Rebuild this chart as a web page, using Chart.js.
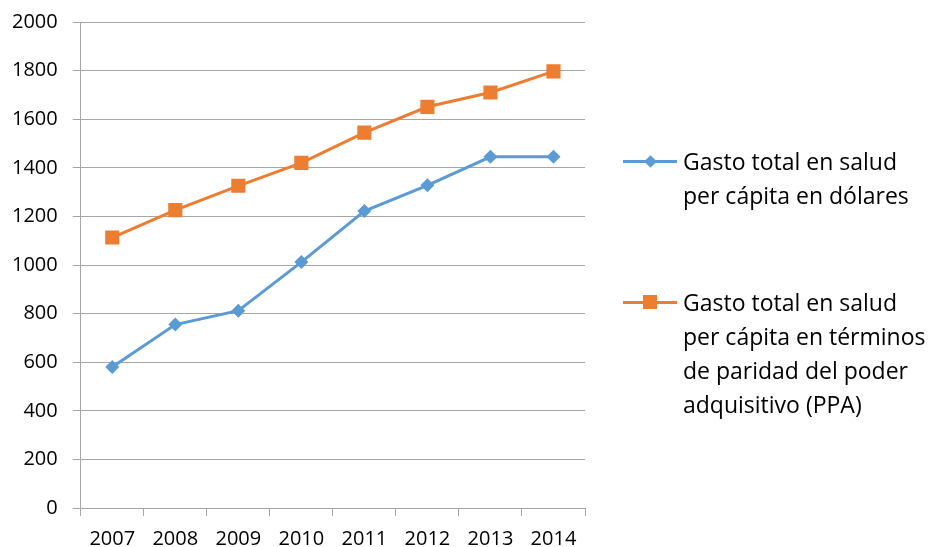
<!DOCTYPE html>
<html>
<head>
<meta charset="utf-8">
<script src="https://cdn.jsdelivr.net/npm/chart.js@4/dist/chart.umd.min.js"></script>
<style>
  html, body { margin: 0; padding: 0; background: #fff; }
  #wrap { position: relative; width: 930px; height: 547px; }
  #c { position: absolute; left: 0; top: 0; }
  .leg { position: absolute; left: 623px; font-family: "Open Sans", sans-serif; font-size: 23px; line-height: 34px; color: #000; }
  .leg .txt { position: absolute; left: 60px; top: 0; white-space: nowrap; }
  .leg .ln { position: absolute; left: 0; top: 15.5px; width: 54px; height: 3px; }
  .leg .mk { position: absolute; }
</style>
</head>
<body>
<div id="wrap">
  <canvas id="c" width="930" height="547"></canvas>
  <div id="legend"></div>
</div>
<script>
const categories = ["2007", "2008", "2009", "2010", "2011", "2012", "2013", "2014"];
const seriesNames = [
  ["Gasto total en salud", "per cápita en dólares"],
  ["Gasto total en salud", "per cápita en términos", "de paridad del poder", "adquisitivo (PPA)"]
];
const usdValues = [580, 755, 812, 1012, 1222, 1328, 1445, 1445];
const ppaValues = [1113, 1226, 1326, 1420, 1545, 1651, 1710, 1797];
const yTicks = [0, 200, 400, 600, 800, 1000, 1200, 1400, 1600, 1800, 2000];

const blue = '#5B9BD5';
const orange = '#ED7D31';
const gridColor = '#A6A6A6';
const fontSpec = { family: '"Open Sans", sans-serif', size: 20, lineHeight: 1 };

new Chart(document.getElementById('c'), {
  type: 'line',
  data: {
    labels: categories,
    datasets: [
      {
        label: seriesNames[0].join(' '),
        data: usdValues,
        borderColor: blue,
        backgroundColor: blue,
        borderWidth: 3,
        pointStyle: 'rectRot',
        pointRadius: 7,
        pointBorderWidth: 0,
        tension: 0
      },
      {
        label: seriesNames[1].join(' '),
        data: ppaValues,
        borderColor: orange,
        backgroundColor: orange,
        borderWidth: 3,
        pointStyle: 'rect',
        pointRadius: 10,
        pointBorderWidth: 0,
        tension: 0
      }
    ]
  },
  options: {
    responsive: false,
    animation: false,
    devicePixelRatio: 1,
    layout: { padding: { left: -3, right: 345, top: 22, bottom: -15 } },
    plugins: { legend: { display: false }, tooltip: { enabled: false } },
    scales: {
      x: {
        offset: true,
        grid: { display: true, offset: true, drawOnChartArea: false, drawTicks: true, tickLength: 8, color: gridColor, lineWidth: 1 },
        border: { display: true, color: gridColor, width: 1 },
        ticks: { font: fontSpec, color: '#000', padding: 13, maxRotation: 0, autoSkip: false }
      },
      y: {
        min: 0, max: 2000,
        afterBuildTicks: (axis) => { axis.ticks = yTicks.map(v => ({ value: v })); },
        afterFit: (axis) => { axis.paddingTop = 0; axis.paddingBottom = 0; },
        grid: { color: gridColor, lineWidth: 1, drawTicks: true, tickLength: 8 },
        border: { display: true, color: gridColor, width: 1 },
        ticks: { font: fontSpec, color: '#000', padding: 15, callback: (v) => String(v) }
      }
    }
  }
});

// HTML legend
const legend = document.getElementById('legend');
const legendItems = [
  { lines: seriesNames[0], color: blue, shape: 'diamond', top: 144 },
  { lines: seriesNames[1], color: orange, shape: 'square', top: 285 }
];
legendItems.forEach(it => {
  const d = document.createElement('div');
  d.className = 'leg';
  d.style.top = it.top + 'px';
  const ln = document.createElement('div');
  ln.className = 'ln';
  ln.style.background = it.color;
  d.appendChild(ln);
  const mk = document.createElement('div');
  mk.className = 'mk';
  mk.style.background = it.color;
  if (it.shape === 'diamond') {
    mk.style.width = '9px'; mk.style.height = '9px';
    mk.style.left = '22.5px'; mk.style.top = '12.5px';
    mk.style.transform = 'rotate(45deg)';
  } else {
    mk.style.width = '14px'; mk.style.height = '14px';
    mk.style.left = '20px'; mk.style.top = '10px';
  }
  d.appendChild(mk);
  const t = document.createElement('div');
  t.className = 'txt';
  t.innerHTML = it.lines.map(s => s.replace(/&/g, '&amp;')).join('<br>');
  d.appendChild(t);
  legend.appendChild(d);
});
</script>
</body>
</html>
